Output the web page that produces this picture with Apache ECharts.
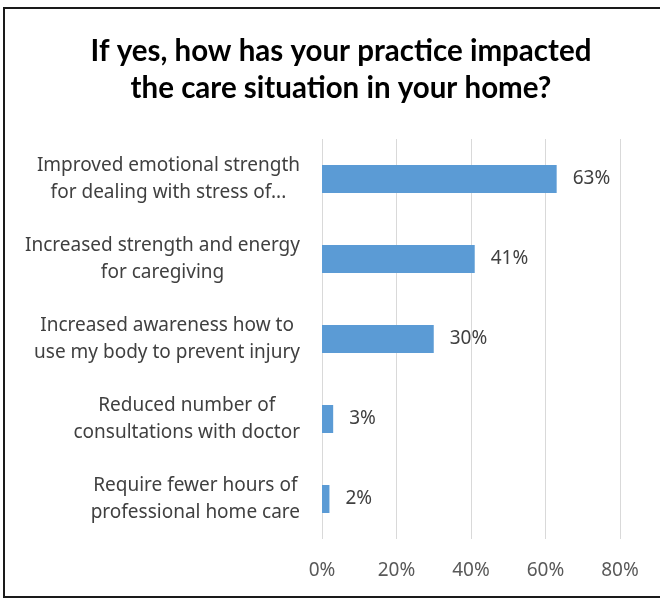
<!DOCTYPE html>
<html>
<head>
<meta charset="utf-8">
<script src="https://cdn.jsdelivr.net/npm/echarts@6/dist/echarts.min.js"></script>
<style>
  html, body { margin: 0; padding: 0; background: #fff; }
  #chart { width: 660px; height: 598px; }
</style>
</head>
<body>
<div id="chart"></div>
<script>
// Survey answers, one entry per bar (top to bottom)
const categories = [
  'Improved emotional strength\nfor dealing with stress of...',
  'Increased strength and energy\nfor caregiving',
  'Increased awareness how to\nuse my body to prevent injury',
  'Reduced number of\nconsultations with doctor',
  'Require fewer hours of\nprofessional home care'
];
const shares = [63, 41, 30, 3, 2];
const tickValues = [0, 20, 40, 60, 80];

const TITLE_FONT = 'Lato';
const FONT = 'Noto Sans';

const chart = echarts.init(document.getElementById('chart'), null, { renderer: 'canvas' });

chart.setOption({
  animation: false,
  textStyle: { fontFamily: FONT },
  title: {
    text: 'If yes, how has your practice impacted\nthe care situation in your home?',
    left: 336,
    textAlign: 'center',
    top: 28,
    textStyle: {
      fontFamily: TITLE_FONT,
      fontSize: 29.5,
      fontWeight: 'bold',
      color: '#000',
      lineHeight: 37
    }
  },
  graphic: [{
    type: 'rect',
    shape: { x: 4, y: 8, width: 700, height: 589 },
    style: { fill: 'none', stroke: '#1a1a1a', lineWidth: 2 },
    silent: true,
    z: 100
  }],
  grid: { left: 322, right: 40, top: 139, bottom: 59 },
  xAxis: {
    type: 'value',
    min: tickValues[0],
    max: tickValues[tickValues.length - 1],
    interval: 20,
    axisLine: { show: false },
    axisTick: { show: false },
    splitLine: { lineStyle: { color: '#d9d9d9', width: 1 } },
    axisLabel: {
      formatter: '{value}%',
      fontFamily: FONT,
      fontSize: 19,
      color: '#595959',
      margin: 22
    }
  },
  yAxis: {
    type: 'category',
    inverse: true,
    data: categories,
    axisLine: { show: false },
    axisTick: { show: false },
    axisLabel: {
      margin: 22,
      fontFamily: FONT,
      fontSize: 19,
      color: '#404040',
      lineHeight: 27,
      formatter: function (v) {
        return v.split('\n').map(function (s) { return '{c|' + s + '}'; }).join('\n');
      },
      rich: {
        c: { align: 'center', fontFamily: FONT, fontSize: 19, color: '#404040', lineHeight: 27 }
      }
    }
  },
  series: [{
    type: 'bar',
    data: shares,
    barWidth: 28,
    itemStyle: { color: '#5b9bd5' },
    label: {
      show: true,
      position: 'right',
      distance: 16,
      formatter: '{c}%',
      fontFamily: FONT,
      fontSize: 19,
      color: '#404040'
    }
  }]
});
</script>
</body>
</html>
